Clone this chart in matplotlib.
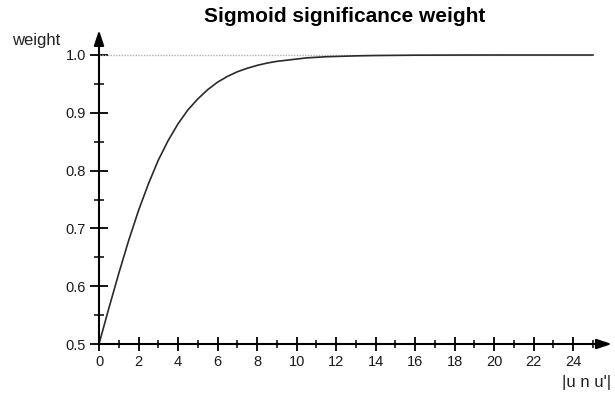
import matplotlib
matplotlib.use("Agg")
import matplotlib.pyplot as plt
from matplotlib.ticker import MultipleLocator

# data
x_vals = [0, 0.5, 1, 1.5, 2, 2.5, 3, 3.5, 4, 4.5, 5, 5.5, 6, 6.5, 7, 7.5, 8, 8.5,
          9, 9.5, 10, 10.5, 11, 11.5, 12, 13, 14, 15, 16, 18, 20, 25]
weight = [0.500, 0.562, 0.622, 0.679, 0.731, 0.777, 0.818, 0.852, 0.881, 0.905,
          0.924, 0.940, 0.953, 0.963, 0.971, 0.977, 0.982, 0.986, 0.989, 0.991,
          0.993, 0.995, 0.996, 0.997, 0.9975, 0.9985, 0.9991, 0.9994, 0.9997,
          0.9999, 1.0, 1.0]
x_ticks = list(range(0, 25, 2))
y_ticks = [0.5, 0.6, 0.7, 0.8, 0.9, 1.0]
y_tick_labels = ["0.5", "0.6", "0.7", "0.8", "0.9", "1.0"]
title = "Sigmoid significance weight"
x_label = "|u n u'|"
y_label = "weight"

plt.rcParams['font.family'] = ['Liberation Sans', 'DejaVu Sans']

fig = plt.figure(figsize=(6.15, 3.96), dpi=100)
W, H = 615, 396
left, right, top, bottom = 99, 593, 55, 344
ax = fig.add_axes([left / W, 1 - bottom / H, (right - left) / W, (bottom - top) / H])
ax.set_xlim(0, 25)
ax.set_ylim(0.5, 1.0)

for s in ['top', 'right', 'left', 'bottom']:
    ax.spines[s].set_visible(False)

# reference line at 1.0
ax.plot([0, 25], [1.0, 1.0], color='#b0b0b0', lw=1.0, ls=(0, (1, 1)), clip_on=False)
# curve
ax.plot(x_vals, weight, color='#2a2a2a', lw=1.2, clip_on=False, zorder=3)

# axes with arrows
ax.annotate('', xy=(25.95, 0.5), xytext=(0, 0.5),
            arrowprops=dict(arrowstyle='-|>,head_length=0.9,head_width=0.3',
                            color='black', lw=1.5, shrinkA=0, shrinkB=0),
            annotation_clip=False)
ax.annotate('', xy=(0, 1.043), xytext=(0, 0.5),
            arrowprops=dict(arrowstyle='-|>,head_length=0.9,head_width=0.3',
                            color='black', lw=1.5, shrinkA=0, shrinkB=0),
            annotation_clip=False)

ax.set_xticks(x_ticks)
ax.set_xticklabels([str(t) for t in x_ticks])
ax.xaxis.set_minor_locator(MultipleLocator(1))
ax.set_yticks(y_ticks)
ax.set_yticklabels(y_tick_labels)
ax.yaxis.set_minor_locator(MultipleLocator(0.05))
ax.set_xlim(0, 25)
ax.set_ylim(0.5, 1.0)

ax.tick_params(axis='both', which='major', direction='inout', length=10, width=1.3,
               labelsize=10.5, colors='black', labelcolor='#1a1a1a', pad=3)
ax.tick_params(axis='x', which='minor', direction='inout', length=6, width=1.1)
ax.tick_params(axis='y', which='minor', direction='inout', length=7, width=1.1)
ax.tick_params(axis='y', which='major', length=13, pad=3)

fig.text(345 / W, 1 - 17 / H, title, ha='center', va='center',
         fontsize=15, fontweight='bold', color='black')
fig.text(36 / W, 1 - 41 / H, y_label, ha='center', va='center', fontsize=12, color='#222222')
fig.text(587 / W, 1 - 383 / H, x_label, ha='center', va='center', fontsize=12, color='#222222')

fig.savefig('out.png', dpi=100, facecolor='white')
